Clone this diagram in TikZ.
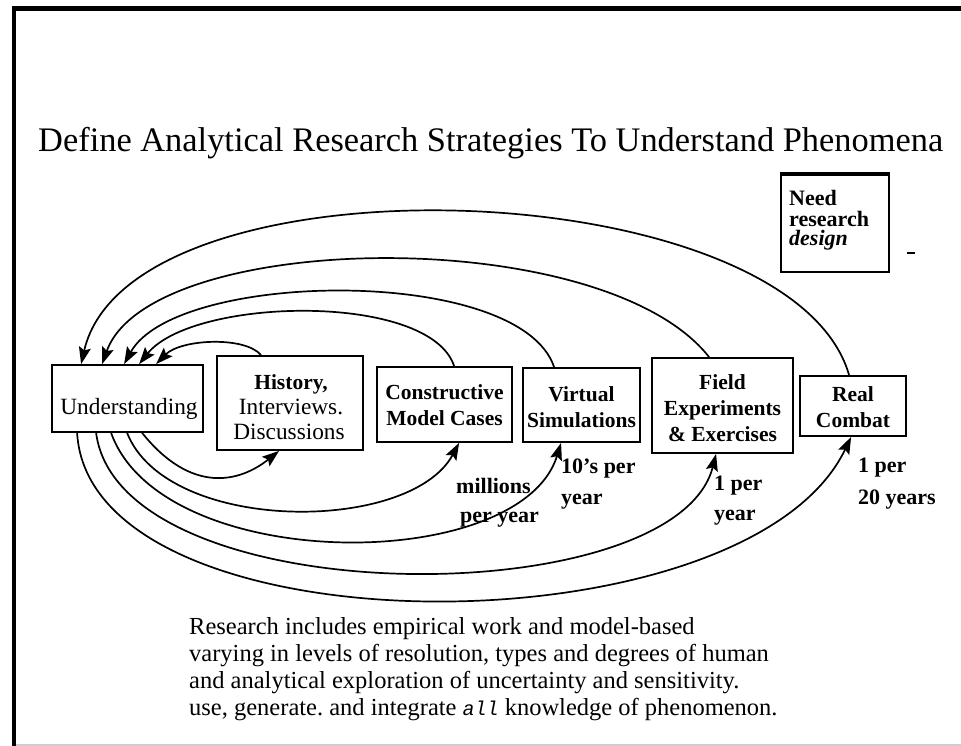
\documentclass[tikz,border=0pt]{standalone}
\usepackage{fontspec}
\setmainfont{Liberation Serif}
\setmonofont{Liberation Mono}
\usetikzlibrary{arrows.meta}
\newcommand\setfs[2]{\fontsize{#1pt}{#2pt}\selectfont}
\frenchspacing
\begin{document}
\begin{tikzpicture}[x=1pt,y=-1pt,
  box/.style={draw, line width=1.8pt, inner sep=0pt},
  conn/.style={line width=1.7pt, -{Stealth[length=17pt,width=12pt,inset=3pt]}},
  txt/.style={anchor=base, inner sep=0pt, font=\setfs{23.3}{27}},
  btxt/.style={anchor=base, inner sep=0pt, font=\bfseries\setfs{21.5}{26}},
  lbl/.style={anchor=base west, inner sep=0pt, font=\bfseries\setfs{22}{26}},
  body/.style={anchor=base west, inner sep=0pt, font=\setfs{24.5}{27}},
  needtxt/.style={anchor=base west, inner sep=0pt, font=\bfseries\setfs{22}{19}}]
\useasboundingbox (0,0) rectangle (961,746);
% frame
\draw[line width=4.5pt] (14,746) -- (14,8.5) -- (961,8.5);
\draw[black!20, line width=1.5pt] (16,745) -- (961,745);
% title
\node[anchor=base west, inner sep=0pt, font=\setfs{34.4}{40}] (title) at (38,152)
  {Define Analytical Research Strategies To Understand Phenomena};
% need box
\node[draw, line width=1.5pt, minimum width=108pt, minimum height=97pt, inner sep=0pt] (need) at (835,223.5) {};
\draw[line width=4.5pt] (need.north west) -- (need.north east);
\node[needtxt] (need1) at (789,206) {Need};
\node[needtxt] (need2) at (789,226) {research};
\node[needtxt] (need3) at (789,246) {\itshape design};
\draw[line width=1.5pt] (907,253) -- (915,253);
% boxes
\node[box, minimum width=151pt, minimum height=67pt] (und) at (127.5,398.5) {};
\node[box, minimum width=146pt, minimum height=94pt] (hist) at (290,403) {};
\node[box, minimum width=135pt, minimum height=75pt] (cons) at (444.5,404.5) {};
\node[box, minimum width=117pt, minimum height=74pt] (virt) at (581.5,405) {};
\node[box, minimum width=141pt, minimum height=95pt] (field) at (722.5,405.5) {};
\node[box, minimum width=106pt, minimum height=60pt] (real) at (853,406) {};
% box texts
\node[txt] (undt) at (129,414) {Understanding};
\node[btxt] (hist1) at (291,389) {History,};
\node[txt] (hist2) at (291,414) {Interviews.};
\node[txt] (hist3) at (289,439) {Discussions};
\node[btxt] (cons1) at (444.5,399) {Constructive};
\node[btxt] (cons2) at (444.5,425) {Model Cases};
\node[btxt] (virt1) at (581.5,401) {Virtual};
\node[btxt] (virt2) at (581.5,427) {Simulations};
\node[btxt] (field1) at (722.5,389) {Field};
\node[btxt] (field2) at (722.5,415) {Experiments};
\node[btxt] (field3) at (722.5,441) {\& Exercises};
\node[btxt] (real1) at (853,401) {Real};
\node[btxt] (real2) at (853,427) {Combat};
% top arcs (back to Understanding)
\draw[conn] ([xshift=50pt]real.north west) .. controls (790,170) and (130,150) .. ([xshift=30pt]und.north west);
\draw[conn] ([xshift=58pt]field.north west) .. controls (603,222) and (150,230) .. ([xshift=51pt]und.north west);
\draw[conn] ([xshift=32pt]virt.north west) .. controls (520,265) and (176,270) .. ([xshift=73pt]und.north west);
\draw[conn] ([xshift=78pt]cons.north west) .. controls (430,292) and (193,297) .. ([xshift=88pt]und.north west);
\draw[conn] ([xshift=45pt]hist.north west) .. controls (245,336) and (181,339) .. ([xshift=105pt]und.north west);
% bottom arcs (out of Understanding)
\draw[conn] ([xshift=91pt]und.south west) .. controls (192,495) and (240,482) .. ([xshift=63pt]hist.south west);
\draw[conn] ([xshift=76pt]und.south west) .. controls (167,534) and (410,534) .. ([xshift=83pt]cons.south west);
\draw[conn] ([xshift=60pt]und.south west) .. controls (162,575) and (520,575) .. ([xshift=39pt]virt.south west);
\draw[conn] ([xshift=45pt]und.south west) .. controls (120,615) and (675,615) .. ([xshift=65pt]field.south west);
\draw[conn] ([xshift=26pt]und.south west) .. controls (90,655) and (747,655) .. ([xshift=52pt]real.south west);
% rate labels
\node[lbl] (m1) at (456,493) {millions};
\node[lbl] (m2) at (460,522) {per year};
\node[lbl] (v1) at (561,473) {10’s per};
\node[lbl] (v2) at (561,504) {year};
\node[lbl] (f1) at (714,490) {1 per};
\node[lbl] (f2) at (714,520) {year};
\node[lbl] (r1) at (858,472) {1 per};
\node[lbl] (r2) at (858,504) {20 years};
% bottom text
\node[body] (b1) at (189,634) {Research includes empirical work and model-based};
\node[body] (b2) at (189,661) {varying in levels of resolution, types and degrees of human};
\node[body] (b3) at (189,688) {and analytical exploration of uncertainty and sensitivity.};
\node[body] (b4) at (189,715) {use, generate. and integrate {\ttfamily\itshape\setfs{20}{27}all} knowledge of phenomenon.};
\end{tikzpicture}
\end{document}
